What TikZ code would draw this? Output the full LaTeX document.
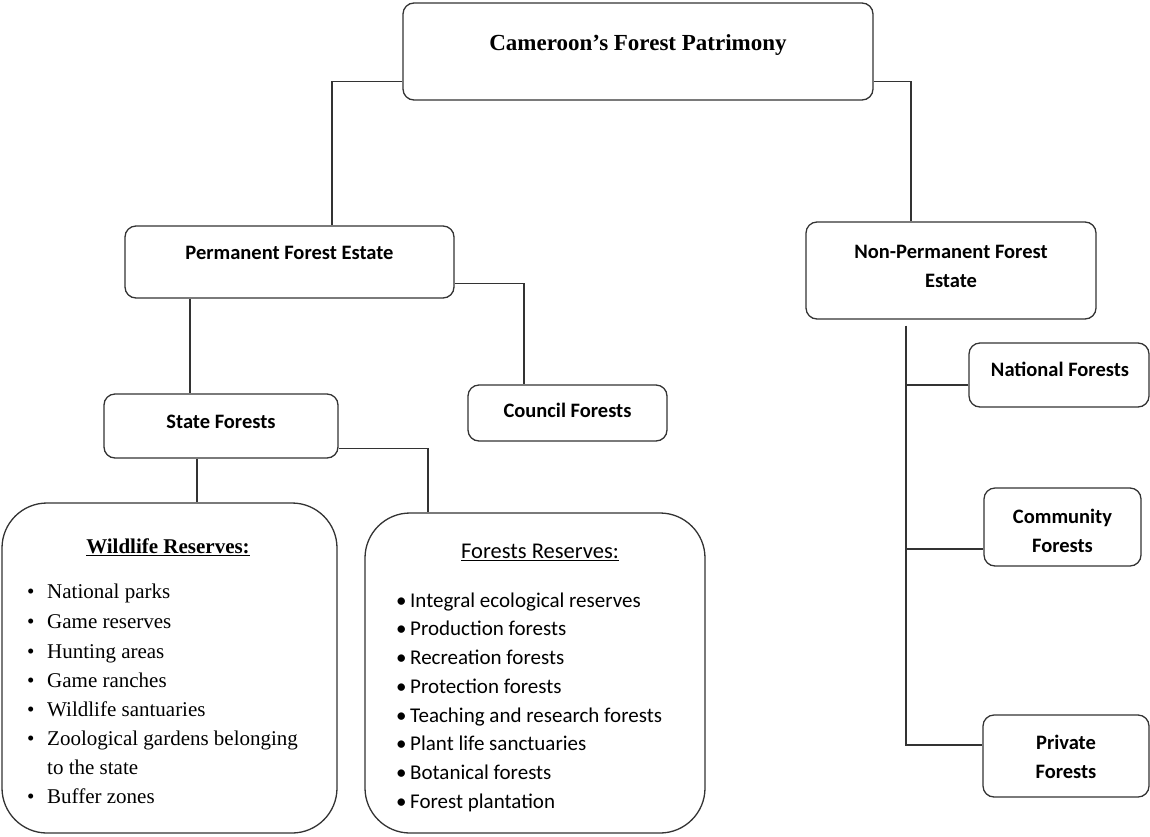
\documentclass[tikz,border=0pt]{standalone}
\usepackage{fontspec}
\setmainfont{Liberation Serif}
\newfontfamily\calfont{Carlito}
\usetikzlibrary{calc}
\begin{document}
\begin{tikzpicture}[x=1pt,y=-1pt,
  box/.style={draw=black!80, line width=1.3pt, rounded corners=11pt, fill=white, inner sep=0pt},
  bigbox/.style={box, rounded corners=45pt},
  conn/.style={draw=black!80, line width=1.3pt},
  lab/.style={font=\calfont\bfseries\fontsize{20.5}{29}\selectfont, align=center, inner sep=0pt},
  ttl/.style={font=\bfseries\fontsize{23}{28}\selectfont, inner sep=0pt},
  citem/.style={anchor=west, inner sep=0pt, font=\calfont\fontsize{21}{28}\selectfont},
  witem/.style={anchor=west, inner sep=0pt, font=\fontsize{21}{28}\selectfont}]
\useasboundingbox (0,0) rectangle (1150,836);

% boxes
\node[box, minimum width=470pt, minimum height=97pt] (top) at (638,51.5) {};
\node[ttl] (topT) at (638,45) {\strut Cameroon’s Forest Patrimony};

\node[box, minimum width=329pt, minimum height=72pt] (perm) at (289.5,262) {};
\node[lab] (permT) at (289.5,254) {\strut Permanent Forest Estate};

\node[box, minimum width=290pt, minimum height=97pt] (nonperm) at (951,270.5) {};
\node[lab] (nonpermT) at (951,267) {\strut Non-Permanent Forest\\\strut Estate};

\node[box, minimum width=234pt, minimum height=64pt] (state) at (221,426) {};
\node[lab] (stateT) at (221,423) {\strut State Forests};

\node[box, minimum width=199pt, minimum height=56pt] (council) at (567.5,413) {};
\node[lab] (councilT) at (567.5,412) {\strut Council Forests};

\node[box, minimum width=180pt, minimum height=64pt] (national) at (1059,375) {};
\node[lab] (nationalT) at (1060,371) {\strut National Forests};

\node[box, minimum width=157pt, minimum height=78pt] (community) at (1062.5,527) {};
\node[lab] (communityT) at (1062.5,532) {\strut Community\\\strut Forests};

\node[box, minimum width=166pt, minimum height=82pt] (private) at (1066,756) {};
\node[lab] (privateT) at (1066,758) {\strut Private\\\strut Forests};

% big boxes
\node[bigbox, minimum width=335pt, minimum height=330pt] (wild) at (169.5,668) {};
\node[ttl, font=\bfseries\fontsize{21}{28}\selectfont] (wildT) at (168,548) {\strut\underline{Wildlife Reserves:}};
\node[witem] (w1) at (27,593) {\strut\makebox[20pt][l]{\textbullet}National parks};
\node[witem] (w2) at (27,623) {\strut\makebox[20pt][l]{\textbullet}Game reserves};
\node[witem] (w3) at (27,653) {\strut\makebox[20pt][l]{\textbullet}Hunting areas};
\node[witem] (w4) at (27,682) {\strut\makebox[20pt][l]{\textbullet}Game ranches};
\node[witem] (w5) at (27,711) {\strut\makebox[20pt][l]{\textbullet}Wildlife santuaries};
\node[witem] (w6) at (27,740) {\strut\makebox[20pt][l]{\textbullet}Zoological gardens belonging};
\node[witem] (w6b) at (47,769) {\strut to the state};
\node[witem] (w7) at (27,798) {\strut\makebox[20pt][l]{\textbullet}Buffer zones};

\node[bigbox, minimum width=340pt, minimum height=320pt] (fr) at (535,673) {};
\node[inner sep=0pt, font=\calfont\fontsize{22.5}{28}\selectfont] (frT) at (540,553) {\strut\underline{Forests Reserves:}};
\node[citem] (f1) at (396,602) {\strut\makebox[14pt][l]{\textbullet}Integral ecological reserves};
\node[citem] (f2) at (396,630) {\strut\makebox[14pt][l]{\textbullet}Production forests};
\node[citem] (f3) at (396,659) {\strut\makebox[14pt][l]{\textbullet}Recreation forests};
\node[citem] (f4) at (396,688) {\strut\makebox[14pt][l]{\textbullet}Protection forests};
\node[citem] (f5) at (396,717) {\strut\makebox[14pt][l]{\textbullet}Teaching and research forests};
\node[citem] (f6) at (396,745) {\strut\makebox[14pt][l]{\textbullet}Plant life sanctuaries};
\node[citem] (f7) at (396,774) {\strut\makebox[14pt][l]{\textbullet}Botanical forests};
\node[citem] (f8) at (396,803) {\strut\makebox[14pt][l]{\textbullet}Forest plantation};

% connectors
\draw[conn] ($(top.south west)+(0,-19)$) -| ($(perm.north)+(42.5,0)$);
\draw[conn] ($(top.south east)+(0,-19)$) -| ($(nonperm.north)+(-40,0)$);
\draw[conn] ($(perm.south)+(-99.5,0)$) -- ($(state.north)+(-31,0)$);
\draw[conn] ($(perm.south east)+(0,-15)$) -| ($(council.north)+(-43.5,0)$);
\draw[conn] ($(state.south)+(-24,0)$) -- ($(wild.north)+(27.5,0)$);
\draw[conn] ($(state.south east)+(0,-10)$) -| ($(fr.north)+(-107,0)$);

\coordinate (trunk) at ($(nonperm.south)+(-45,6)$);
\coordinate (natb) at ($(national.west)+(0,10)$);
\coordinate (comb) at ($(community.west)+(0,22)$);
\coordinate (prib) at ($(private.west)+(0,-11)$);
\draw[conn] (trunk) |- (prib);
\draw[conn] (natb) -- (trunk |- natb);
\draw[conn] (comb) -- (trunk |- comb);
\end{tikzpicture}
\end{document}
